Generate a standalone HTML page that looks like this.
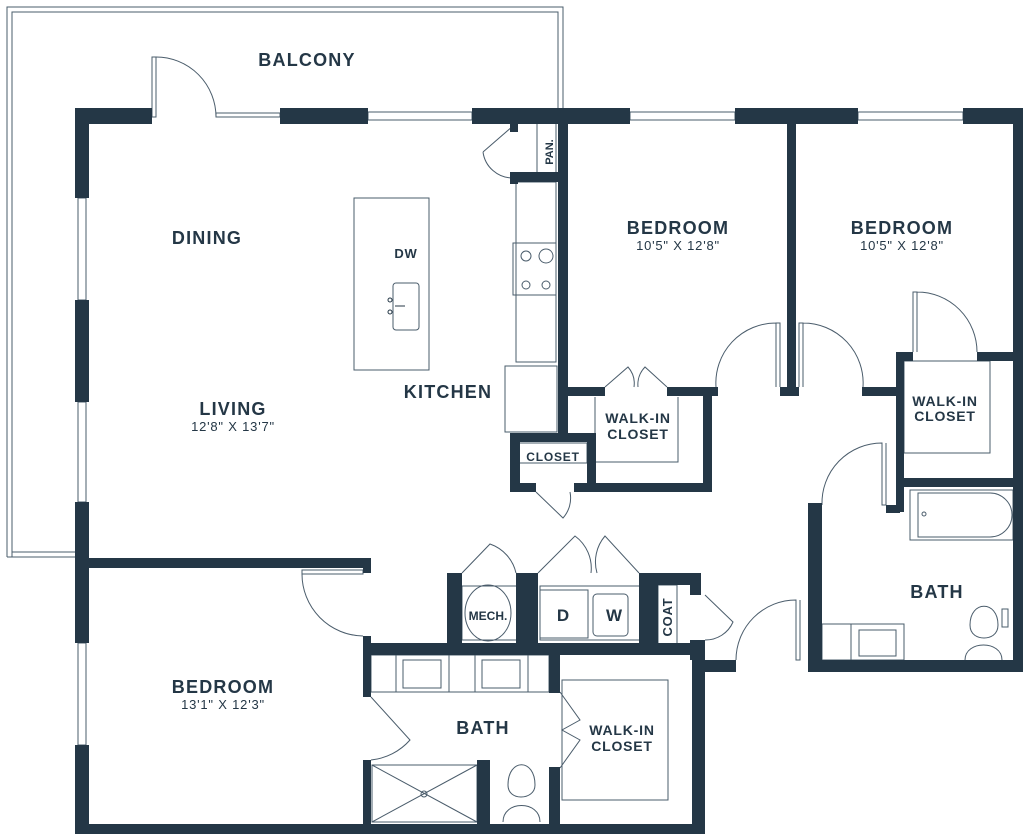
<!DOCTYPE html>
<html><head><meta charset="utf-8"><style>
html,body{margin:0;padding:0;background:#fff;}
svg{display:block}
text{font-family:"Liberation Sans",sans-serif;fill:#243746;font-weight:bold;text-anchor:middle}
.r{font-size:18px;letter-spacing:1.2px}
.s{font-weight:normal;letter-spacing:0.8px}
.m{letter-spacing:0.8px}
</style></head><body>
<svg width="1024" height="834" viewBox="0 0 1024 834" xmlns="http://www.w3.org/2000/svg">
<g fill="none" stroke="#4a5c6b" stroke-width="1">
<path d="M7,557 V7 H563 V109"/>
<path d="M12,557 V12 H558 V109"/>
<path d="M7,557 H75 M12,552 H75"/>
<rect x="152" y="57" width="4" height="60"/>
<path d="M156,57 A60,60 0 0 1 216,117"/>
<rect x="216" y="113" width="64" height="4"/>
<rect x="368" y="112" width="104" height="8"/>
<rect x="630" y="112" width="105" height="8"/>
<rect x="858" y="112" width="105" height="8"/>
<rect x="78" y="198" width="8" height="102"/>
<rect x="78" y="402" width="8" height="100"/>
<rect x="78" y="643" width="8" height="102"/>
<rect x="354" y="198" width="75" height="172"/>
<rect x="393" y="283" width="26" height="47" rx="3"/>
<rect x="516" y="182" width="40" height="180"/>
<rect x="513" y="243" width="43" height="52"/>
<circle cx="526" cy="256" r="5"/><circle cx="546" cy="256" r="7"/>
<circle cx="526" cy="285" r="4"/><circle cx="546" cy="285" r="4"/>
<rect x="505" y="366" width="52" height="66"/>
<path d="M483,152 L513,126 M483,152 A30,30 0 0 0 513,178"/>
<rect x="537" y="123" width="19" height="52"/>
<rect x="517" y="443" width="70" height="20"/>
<path d="M536,492 L563,518 A30,30 0 0 0 570,492"/>
<path d="M595,397 V462 H678 V397"/>
<path d="M605,387 L628,367 A25,25 0 0 1 634,387 M667,387 L645,367 A25,25 0 0 0 638,387"/>
<path d="M780,387 V323 H776 V387 M776,323 A60,60 0 0 0 716,387"/>
<path d="M799,387 V323 H803 V387 M803,323 A60,60 0 0 1 863,387"/>
<path d="M913,352 V292 H917 V352 M917,292 A60,60 0 0 1 977,352"/>
<rect x="904" y="361" width="86" height="92"/>
<path d="M822,505 A60,60 0 0 1 882,443 V505 H886 V443"/>
<rect x="910" y="490" width="103" height="50"/>
<path d="M918,493 H990 A22,22 0 0 1 990,537 H918 Z"/>
<circle cx="924" cy="514" r="2"/>
<rect x="822" y="624" width="82" height="36"/>
<rect x="851" y="624" width="53" height="36"/>
<rect x="859" y="630" width="37" height="26"/>
<path d="M970,625 C970,600 998,600 998,625 C998,635 990,638 984,638 C978,638 970,635 970,625 Z"/>
<path d="M965,660 C965,640 1002,640 1002,660"/>
<rect x="1002" y="609" width="6" height="18"/>
<path d="M736,660 A60,60 0 0 1 796,600 V660 H800 V600"/>
<path d="M462,573 L490,544 A40,40 0 0 1 516,573"/>
<path d="M538,573 L575,536 A40,40 0 0 1 591,573 M639,573 L605,536 A40,40 0 0 0 597,573"/>
<rect x="462" y="586" width="55" height="54"/>
<ellipse cx="488" cy="613" rx="23" ry="28"/>
<rect x="540" y="586" width="100" height="54"/>
<rect x="540" y="590" width="48" height="48"/>
<rect x="593" y="594" width="35" height="42" rx="4"/>
<rect x="658" y="585" width="19" height="62"/>
<path d="M705,595 L733,622 A30,30 0 0 1 705,640"/>
<rect x="302" y="570" width="61" height="4"/>
<path d="M302,574 A62,62 0 0 0 363,636"/>
<rect x="371" y="655" width="178" height="37"/>
<rect x="396" y="655" width="53" height="37"/><rect x="403" y="660" width="38" height="28"/>
<rect x="475" y="655" width="53" height="37"/><rect x="482" y="660" width="38" height="28"/>
<path d="M371,697 L410,740 A60,60 0 0 1 371,760"/>
<path d="M560,692 L580,720 L562,730 L580,740 L560,768"/>
<rect x="562" y="680" width="106" height="120"/>
<rect x="372" y="765" width="105" height="57"/>
<path d="M372,765 L477,822 M477,765 L372,822"/>
<circle cx="424" cy="794" r="3"/>
<path d="M508,785 C508,758 535,758 535,785 C535,793 528,797 521,797 C514,797 508,793 508,785 Z"/>
<path d="M503,822 C503,800 540,800 540,822"/>
</g>
<g fill="#243746">
<rect x="75" y="108" width="77" height="16"/>
<rect x="280" y="108" width="88" height="16"/>
<rect x="472" y="108" width="158" height="16"/>
<rect x="735" y="108" width="123" height="16"/>
<rect x="963" y="108" width="60" height="16"/>
<rect x="75" y="108" width="14" height="90"/>
<rect x="75" y="300" width="14" height="102"/>
<rect x="75" y="502" width="14" height="141"/>
<rect x="75" y="745" width="14" height="89"/>
<rect x="75" y="824" width="630" height="10"/>
<rect x="692" y="655" width="13" height="179"/>
<rect x="1013" y="108" width="10" height="564"/>
<rect x="510" y="124" width="8" height="8"/>
<rect x="510" y="172" width="50" height="10"/>
<rect x="510" y="172" width="8" height="12"/>
<rect x="558" y="108" width="10" height="290"/>
<rect x="558" y="387" width="47" height="9"/>
<rect x="667" y="387" width="51" height="9"/>
<rect x="703" y="387" width="9" height="105"/>
<rect x="574" y="483" width="138" height="9"/>
<rect x="587" y="433" width="9" height="59"/>
<rect x="558" y="387" width="10" height="50"/>
<rect x="510" y="433" width="86" height="9"/>
<rect x="510" y="433" width="10" height="59"/>
<rect x="510" y="483" width="26" height="9"/>
<rect x="787" y="108" width="9" height="287"/>
<rect x="780" y="387" width="19" height="9"/>
<rect x="862" y="387" width="42" height="9"/>
<rect x="896" y="352" width="8" height="160"/>
<rect x="896" y="352" width="17" height="9"/>
<rect x="977" y="352" width="46" height="9"/>
<rect x="896" y="478" width="127" height="9"/>
<rect x="886" y="505" width="14" height="8"/>
<rect x="808" y="505" width="14" height="167"/>
<rect x="808" y="660" width="215" height="12"/>
<rect x="808" y="503" width="14" height="10"/>
<rect x="75" y="558" width="296" height="10"/>
<rect x="363" y="558" width="8" height="15"/>
<rect x="447" y="573" width="15" height="73"/>
<rect x="516" y="573" width="22" height="73"/>
<rect x="639" y="573" width="19" height="75"/>
<rect x="639" y="573" width="62" height="12"/>
<rect x="690" y="573" width="11" height="22"/>
<rect x="690" y="640" width="15" height="20"/>
<rect x="705" y="660" width="31" height="12"/>
<rect x="363" y="643" width="342" height="12"/>
<rect x="363" y="636" width="8" height="61"/>
<rect x="363" y="760" width="8" height="74"/>
<rect x="549" y="655" width="11" height="38"/>
<rect x="549" y="767" width="11" height="67"/>
<rect x="477" y="760" width="13" height="74"/>
</g>
<g fill="none" stroke="#243746" stroke-width="1"><circle cx="390" cy="300" r="2"/><circle cx="390" cy="312" r="2"/><path d="M395,306 H405"/></g>
<text x="307" y="66" class="r">BALCONY</text>
<text x="207" y="244" class="r">DINING</text>
<text x="406" y="258" font-size="13" class="m">DW</text>
<text x="448" y="398" class="r">KITCHEN</text>
<text x="233" y="415" class="r">LIVING</text>
<text x="233" y="431" font-size="13" class="s">12'8" X 13'7"</text>
<text x="678" y="234" class="r">BEDROOM</text>
<text x="678" y="250" font-size="13" class="s">10'5" X 12'8"</text>
<text x="902" y="234" class="r">BEDROOM</text>
<text x="902" y="250" font-size="13" class="s">10'5" X 12'8"</text>
<text x="638" y="423" font-size="14" class="m">WALK-IN</text>
<text x="638" y="439" font-size="14" class="m">CLOSET</text>
<text x="945" y="406" font-size="14" class="m">WALK-IN</text>
<text x="945" y="421" font-size="14" class="m">CLOSET</text>
<text x="553" y="461" font-size="12" class="m">CLOSET</text>
<text x="937" y="598" class="r">BATH</text>
<text x="488" y="620" font-size="12">MECH.</text>
<text x="563" y="621" font-size="17">D</text>
<text x="614" y="621" font-size="17">W</text>
<text x="672" y="617" font-size="13" class="m" transform="rotate(-90 672 617)">COAT</text>
<text x="553" y="152" font-size="11" transform="rotate(-90 553 152)">PAN.</text>
<text x="223" y="693" class="r">BEDROOM</text>
<text x="223" y="709" font-size="13" class="s">13'1" X 12'3"</text>
<text x="483" y="734" class="r">BATH</text>
<text x="622" y="735" font-size="14" class="m">WALK-IN</text>
<text x="622" y="751" font-size="14" class="m">CLOSET</text>
</svg>
</body></html>
